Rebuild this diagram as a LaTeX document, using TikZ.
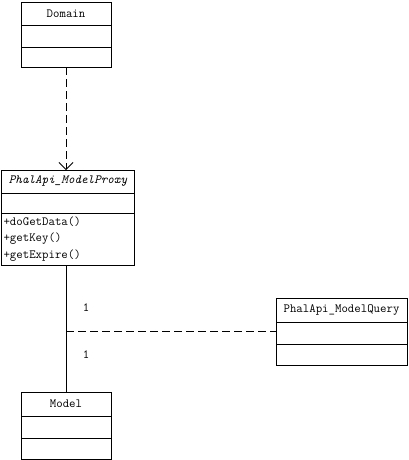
\documentclass[tikz,border=0pt]{standalone}
\usepackage{fontspec}
\usetikzlibrary{arrows.meta}
\begin{document}
\begin{tikzpicture}[x=1pt, y=-1pt,
  every node/.style={font=\ttfamily\fontsize{12.5}{16.5}\selectfont},
  part/.style={draw, line width=0.8pt, inner sep=0pt, outer sep=0pt, anchor=north},
  dep/.style={line width=0.8pt, dash pattern=on 8pt off 4pt}]

\useasboundingbox (0,0) rectangle (408,460);

% Domain
\begin{scope}[every node/.append style={minimum width=90pt}]
\node[part, minimum height=23pt] (domain) at (66,2) {Domain};
\node[part, minimum height=22pt] (domainattr) at (domain.south) {};
\node[part, minimum height=20pt] (domainops) at (domainattr.south) {};
\end{scope}

% PhalApi_ModelProxy
\begin{scope}[every node/.append style={minimum width=133pt}]
\node[part, minimum height=23pt, font=\ttfamily\itshape\fontsize{12.5}{16.5}\selectfont] (proxy) at (68,170) {PhalApi\_ModelProxy};
\node[part, minimum height=20pt] (proxyattr) at (proxy.south) {};
\node[part, minimum height=52pt, text width=129pt, inner xsep=2pt, align=left] (proxyops) at (proxyattr.south) {+doGetData()\\+getKey()\\+getExpire()};
\end{scope}

% Model
\begin{scope}[every node/.append style={minimum width=90pt}]
\node[part, minimum height=24pt] (model) at (66,392) {Model};
\node[part, minimum height=22pt] (modelattr) at (model.south) {};
\node[part, minimum height=21pt] (modelops) at (modelattr.south) {};
\end{scope}

% PhalApi_ModelQuery
\begin{scope}[every node/.append style={minimum width=131pt}]
\node[part, minimum height=24pt] (query) at (341.5,298) {PhalApi\_ModelQuery};
\node[part, minimum height=22pt] (queryattr) at (query.south) {};
\node[part, minimum height=21pt] (queryops) at (queryattr.south) {};
\end{scope}

\draw[dep, -{Straight Barb[length=7pt, width=14pt, line width=0.8pt]}]
(domainops.south) -- (domainops.south |- proxy.north);

\draw[line width=0.8pt] (model.north |- proxyops.south) -- (model.north);

\coordinate (assoc) at (66,331);
\draw[dep] (assoc) -- (assoc -| queryattr.west);

\node (multtop) at (86,308) {1};
\node (multbottom) at (86,355) {1};

\end{tikzpicture}
\end{document}
